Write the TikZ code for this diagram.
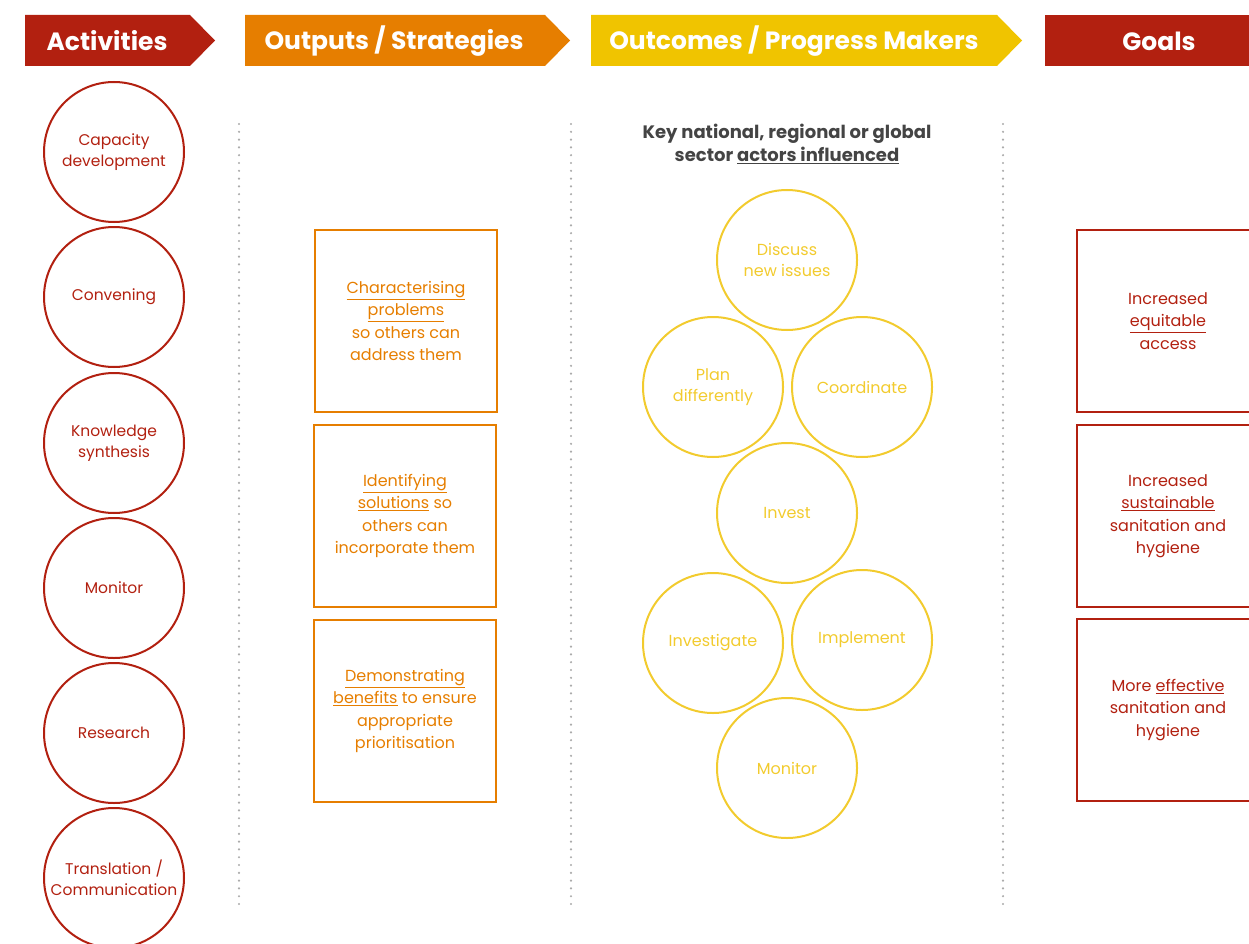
\documentclass[tikz,border=0pt]{standalone}
\usepackage{fontspec}
\setmainfont{Poppins}
\definecolor{actred}{HTML}{B22010}
\definecolor{outorange}{HTML}{E67E00}
\definecolor{hdryellow}{HTML}{F0C400}
\definecolor{actoryellow}{HTML}{F2CB2E}
\definecolor{keygray}{HTML}{444444}
\definecolor{dotgray}{HTML}{ABABAB}
\begin{document}
\begin{tikzpicture}[x=1pt, y=-1pt,
	banner/.style={text=white, font=\fontsize{25}{29}\selectfont\bfseries},
	activity/.style={circle, draw=actred, line width=2pt, minimum size=140pt, inner sep=0pt, text=actred, align=center, font=\fontsize{15.5}{21}\selectfont},
	output/.style={rectangle, draw=outorange, line width=2pt, minimum width=182pt, minimum height=182pt, text=outorange, align=center, font=\fontsize{16}{22.5}\selectfont},
	actor/.style={circle, draw=actoryellow, line width=2pt, minimum size=140pt, inner sep=0pt, text=actoryellow, align=center, font=\fontsize{16}{21}\selectfont},
	goal/.style={rectangle, draw=actred, line width=2pt, minimum width=182pt, minimum height=182pt, text=actred, align=center, font=\fontsize{16}{22.5}\selectfont},
	sep/.style={dotgray, line width=2.4pt, line cap=round, dash pattern=on 0pt off 7.8pt}]
	\useasboundingbox (0,0) rectangle (1249,944);
	\clip (0,0) rectangle (1249,944);

	% banners
	\fill [actred] (25,15) -- (190,15) -- (215,40.5) -- (190,66) -- (25,66) -- cycle;
	\fill [outorange] (245,15) -- (545,15) -- (570,40.5) -- (545,66) -- (245,66) -- cycle;
	\fill [hdryellow] (591,15) -- (997,15) -- (1022,40.5) -- (997,66) -- (591,66) -- cycle;
	\fill [actred] (1045,15) rectangle (1260,66);
	\node [banner] (hact) at (107,41) {Activities};
	\node [banner] (hout) at (394,41) {Outputs / Strategies};
	\node [banner] (hocm) at (794,41) {Outcomes / Progress Makers};
	\node [banner] (hgoal) at (1159,41) {Goals};

	% separators
	\coordinate (s1a) at (239,124); \coordinate (s1b) at (239,908);
	\coordinate (s2a) at (571,124); \coordinate (s2b) at (571,908);
	\coordinate (s3a) at (1003,124); \coordinate (s3b) at (1003,908);
	\draw [sep] (s1a) -- (s1b);
	\draw [sep] (s2a) -- (s2b);
	\draw [sep] (s3a) -- (s3b);

	% activities
	\node [activity] (capdev) at (114,152) {Capacity\\development};
	\node [activity] (conven) at (114,297) {Convening};
	\node [activity] (knowsyn) at (114,443) {Knowledge\\synthesis};
	\node [activity] (monit) at (114,588) {Monitor};
	\node [activity] (resear) at (114,733) {Research};
	\node [activity] (transl) at (114,878) {Translation /\\Communication};

	% outputs / strategies
	\node [output] (charprob) at (406,321) {\underline{Characterising}\\\underline{problems}\\so others can\\address them};
	\node [output] (identsol) at (405,516) {\underline{Identifying}\\\underline{solutions} so\\others can\\incorporate them};
	\node [output] (demoben) at (405,711) {\underline{Demonstrating}\\\underline{benefits} to ensure\\appropriate\\prioritisation};

	% outcomes
	\node [text=keygray, align=center, font=\fontsize{18}{23}\selectfont\bfseries] (keyact) at (787,144) {Key national, regional or global\\sector \underline{actors influenced}};
	\node [actor] (discuss) at (787,260) {Discuss\\new issues};
	\node [actor] (plandiff) at (713,387) {Plan\\differently};
	\node [actor] (coord) at (862,387) {Coordinate};
	\node [actor] (invest) at (787,513) {Invest};
	\node [actor] (investig) at (713,643) {Investigate};
	\node [actor] (implem) at (862,640) {Implement};
	\node [actor] (monitor) at (787,768) {Monitor};

	% goals
	\node [goal] (equit) at (1168,321) {Increased\\\underline{equitable}\\access};
	\node [goal] (sustain) at (1168,516) {Increased\\\underline{sustainable}\\sanitation and\\hygiene};
	\node [goal] (effect) at (1168,710) {More \underline{effective}\\sanitation and\\hygiene};
\end{tikzpicture}
\end{document}
